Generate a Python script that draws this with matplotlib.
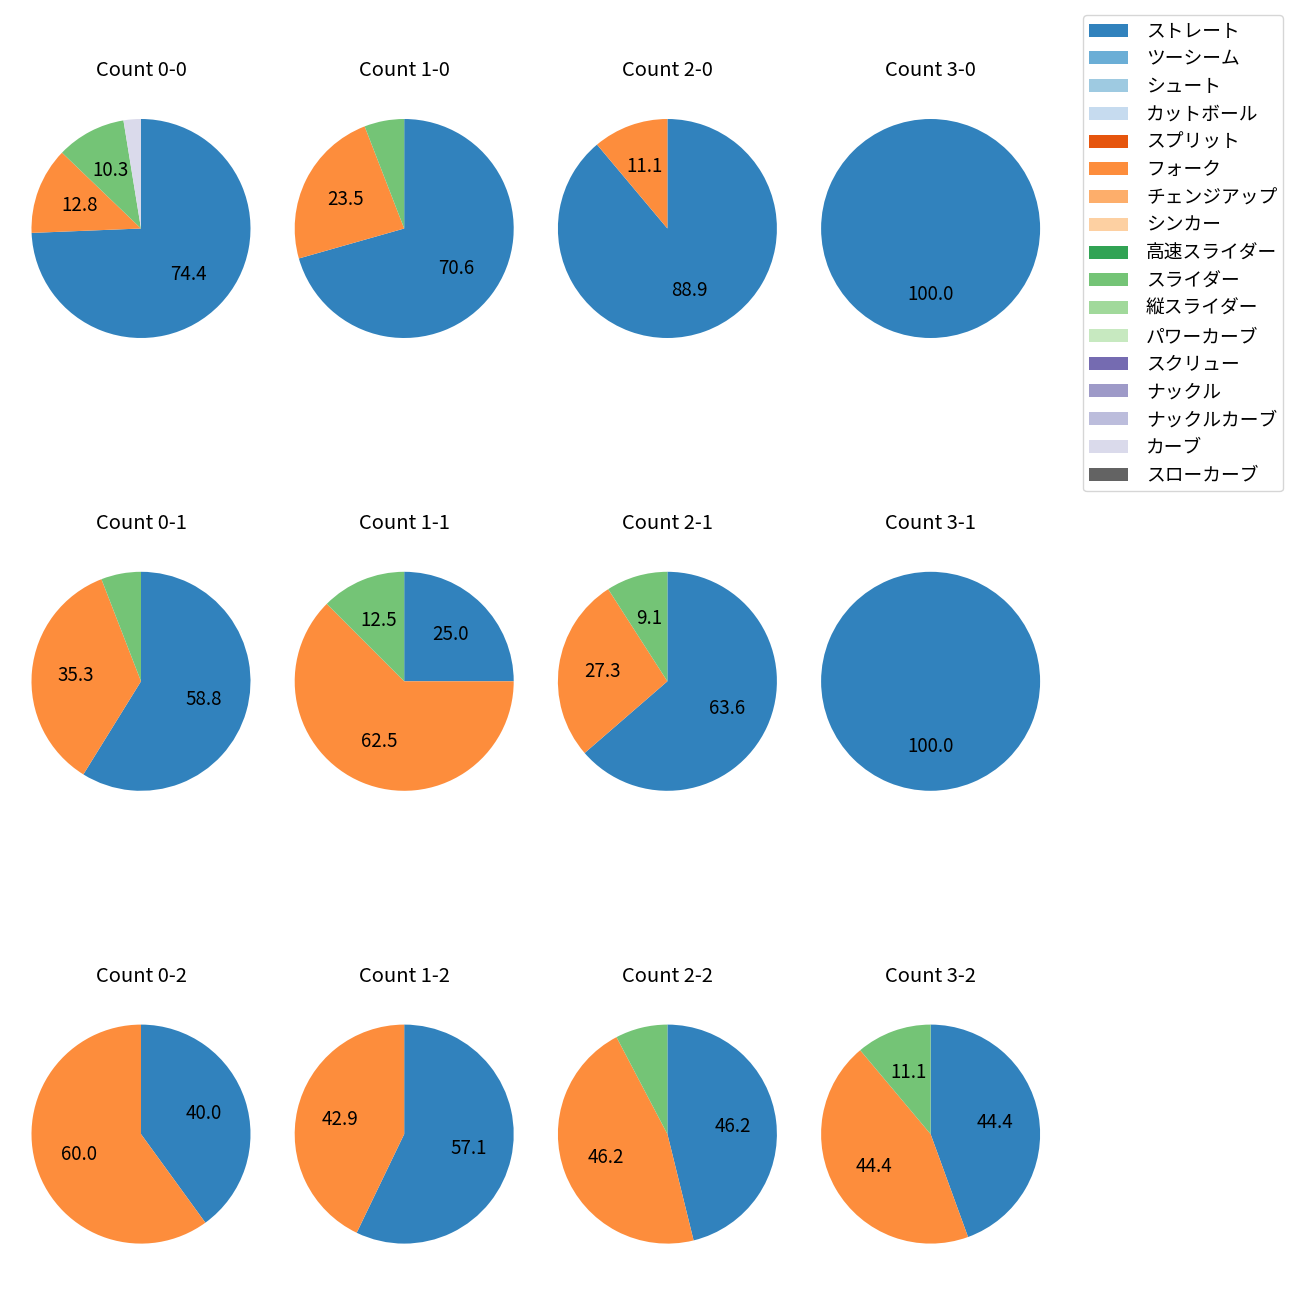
import matplotlib
matplotlib.use("Agg")
import matplotlib.pyplot as plt
from matplotlib.patches import Patch

plt.rcParams['font.family'] = ['Noto Sans CJK JP', 'DejaVu Sans']

pitch_types = ['ストレート', 'ツーシーム', 'シュート', 'カットボール', 'スプリット', 'フォーク',
               'チェンジアップ', 'シンカー', '高速スライダー', 'スライダー', '縦スライダー',
               'パワーカーブ', 'スクリュー', 'ナックル', 'ナックルカーブ', 'カーブ', 'スローカーブ']

cmap = plt.get_cmap('tab20c')
pitch_colors = [cmap(i) for i in range(len(pitch_types))]

counts = ['0-0', '1-0', '2-0', '3-0',
          '0-1', '1-1', '2-1', '3-1',
          '0-2', '1-2', '2-2', '3-2']

# pitch counts per ball-strike count (inferred from the shown percentages)
pitches_00 = {'ストレート': 29, 'フォーク': 5, 'スライダー': 4, 'カーブ': 1}
pitches_10 = {'ストレート': 12, 'フォーク': 4, 'スライダー': 1}
pitches_20 = {'ストレート': 8, 'フォーク': 1}
pitches_30 = {'ストレート': 3}
pitches_01 = {'ストレート': 10, 'フォーク': 6, 'スライダー': 1}
pitches_11 = {'ストレート': 2, 'フォーク': 5, 'スライダー': 1}
pitches_21 = {'ストレート': 7, 'フォーク': 3, 'スライダー': 1}
pitches_31 = {'ストレート': 2}
pitches_02 = {'ストレート': 2, 'フォーク': 3}
pitches_12 = {'ストレート': 4, 'フォーク': 3}
pitches_22 = {'ストレート': 6, 'フォーク': 6, 'スライダー': 1}
pitches_32 = {'ストレート': 4, 'フォーク': 4, 'スライダー': 1}

data = [pitches_00, pitches_10, pitches_20, pitches_30,
        pitches_01, pitches_11, pitches_21, pitches_31,
        pitches_02, pitches_12, pitches_22, pitches_32]

LABEL_MIN = 8.0

W = H = 1300
fig = plt.figure(figsize=(13, 13), dpi=100)

# layout (pixels)
x0, dx = 141, 263.2
y0, dy = 228.5, 452.8
side = 2.5 * 109.5

for idx, (cnt, d) in enumerate(zip(counts, data)):
    r, c = divmod(idx, 4)
    cx = x0 + c * dx
    cy = y0 + r * dy
    ax = fig.add_axes([(cx - side / 2) / W, 1 - (cy + side / 2) / H, side / W, side / H])
    labels = [p for p in pitch_types if p in d]
    vals = [d[p] for p in labels]
    cols = [pitch_colors[pitch_types.index(p)] for p in labels]
    ax.pie(vals, colors=cols, startangle=90, counterclock=False,
           autopct=lambda p: f'{p:.1f}' if p >= LABEL_MIN else '',
           pctdistance=0.6, textprops={'fontsize': 13.5})
    ax.set_title(f'Count {cnt}', fontsize=14.5, pad=11)

handles = [Patch(facecolor=col, label=lab) for lab, col in zip(pitch_types, pitch_colors)]
fig.legend(handles=handles, loc='upper right', bbox_to_anchor=(1283 / W, 1 - 15 / H),
           borderaxespad=0, fontsize=13.5, labelspacing=0.36, borderpad=0.3,
           handlelength=2.1, handletextpad=0.95)

fig.savefig('out.png', dpi=100)
